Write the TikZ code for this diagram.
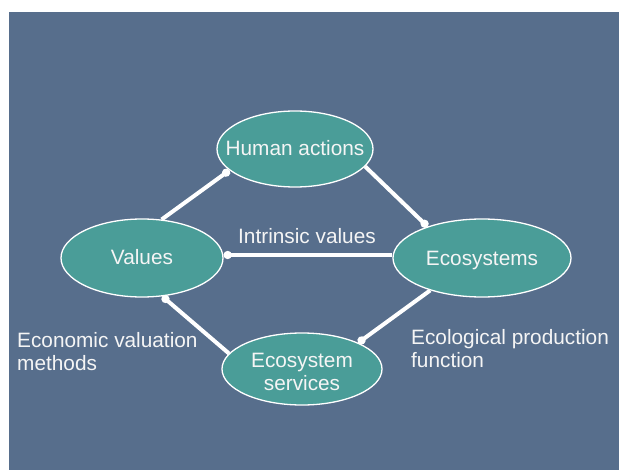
\documentclass[tikz,border=0pt]{standalone}
\usepackage{fontspec}
\setmainfont{Liberation Sans}
\usetikzlibrary{shapes.geometric,arrows.meta}
\definecolor{bgblue}{RGB}{87,110,140}
\definecolor{tealfill}{RGB}{74,157,152}
\definecolor{txtwhite}{RGB}{245,245,245}
\tikzset{
  bubble/.style={ellipse, draw=white, line width=1.3pt, fill=tealfill, inner sep=0pt,
    text=txtwhite, font=\fontsize{20.8}{23.5}\selectfont, text height=16pt, text depth=2pt},
  link/.style={draw=white, line width=4pt, -{Circle[length=8pt,width=8pt]}},
  lbl/.style={text=txtwhite, font=\fontsize{20.8}{23.5}\selectfont, inner sep=0pt, align=left}
}
\begin{document}
\begin{tikzpicture}[x=1pt,y=-1pt]
\useasboundingbox (0,0) rectangle (620,470);
\fill[white] (0,0) rectangle (620,470);
\fill[bgblue] (9,12) rectangle (619,470);

\node[bubble, minimum width=156pt, minimum height=76pt] (h) at (295,149) {\makebox[0pt]{Human actions}};
\node[bubble, minimum width=162pt, minimum height=78pt] (v) at (142,258) {\makebox[0pt]{\raisebox{1pt}{Values}}};
\node[bubble, minimum width=178pt, minimum height=78pt] (e) at (482,258) {\makebox[0pt]{Ecosystems}};
\node[bubble, minimum width=160pt, minimum height=72pt] (s) at (302,369) {\makebox[0pt]{\raisebox{-3.3pt}{\begin{tabular}{@{}c@{}}Ecosystem\\services\end{tabular}}}};

\draw[link] (v.63) -- (h.198);
\draw[link] (h.-14) -- (e.150);
\draw[link] ([yshift=3pt]e.west) -- ([yshift=3pt]v.east);
\draw[link] (e.212) -- (s.25);
\draw[link] (s.168) -- (v.298);

\node[lbl, anchor=north west] (iv) at (238,228) {Intrinsic values};
\node[lbl, anchor=north west] (ev) at (17,332) {Economic valuation\\methods};
\node[lbl, anchor=north west] (ep) at (411,329) {Ecological production\\function};
\end{tikzpicture}
\end{document}
